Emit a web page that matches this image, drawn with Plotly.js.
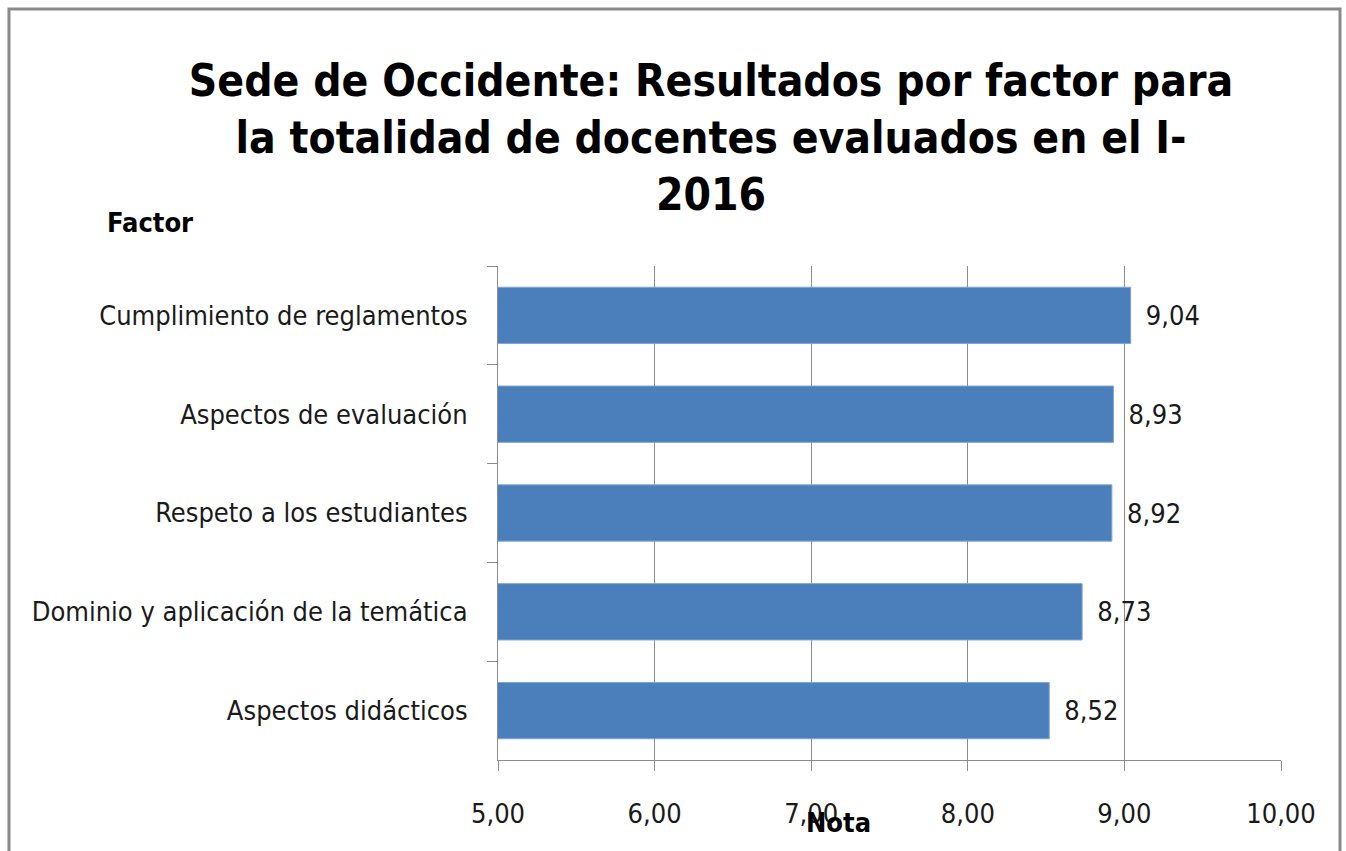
<!DOCTYPE html>
<html>
<head>
<meta charset="utf-8">
<script src="https://cdn.plot.ly/plotly-3.0.1.min.js"></script>
<style>
  html, body { margin: 0; padding: 0; background: #ffffff; }
  #chart { width: 1346px; height: 851px; }
</style>
</head>
<body>
<div id="chart"></div>
<script>
const categories = [
  "Cumplimiento de reglamentos",
  "Aspectos de evaluación",
  "Respeto a los estudiantes",
  "Dominio y aplicación de la temática",
  "Aspectos didácticos"
];
const notas = [9.04, 8.93, 8.92, 8.73, 8.52];
const xTicks = [5, 6, 7, 8, 9, 10];

const titleText = "Sede de Occidente: Resultados por factor para<br>la totalidad de docentes evaluados en el I-<br>2016";
const FONT = '"DejaVu Sans Condensed", "Liberation Sans Narrow", Arial, sans-serif';

const L = 498, R = 1281, T = 266, B = 760, W = 1346, H = 851;
const pw = R - L, ph = B - T;
const px = v => (v - L) / pw;
const py = v => (B - v) / ph;

const trace = {
  type: 'bar',
  orientation: 'h',
  y: categories,
  x: notas,
  marker: { color: '#4a7fbb', line: { color: '#7fa6d3', width: 1 } },
  texttemplate: '\u2002%{x:.2f}',
  textposition: 'outside',
  cliponaxis: false,
  textfont: { family: FONT, size: 27, color: '#1a1a1a' },
  hoverinfo: 'skip'
};

const layout = {
  width: W, height: H,
  margin: { l: L, r: W - R, t: T, b: H - B, pad: 0 },
  paper_bgcolor: '#ffffff',
  plot_bgcolor: '#ffffff',
  separators: ',.',
  showlegend: false,
  bargap: 0.43,
  title: {
    text: titleText,
    font: { family: FONT, size: 44, color: '#000000', weight: 'bold' },
    x: 711 / W, xref: 'container', xanchor: 'center',
    y: 1 - 96 / H, yref: 'container', yanchor: 'middle'
  },
  xaxis: {
    range: [5, 10],
    tickvals: xTicks,
    tickformat: '.2f',
    showgrid: true,
    gridcolor: '#8c8c8c',
    gridwidth: 1,
    zeroline: false,
    showline: true,
    linecolor: '#8c8c8c',
    linewidth: 1,
    ticks: 'outside',
    ticklen: 10,
    tickcolor: '#8c8c8c',
    ticklabelstandoff: 20,
    tickfont: { family: FONT, size: 27, color: '#1a1a1a' },
    fixedrange: true
  },
  yaxis: {
    type: 'category',
    autorange: 'reversed',
    showgrid: false,
    zeroline: false,
    showline: true,
    linecolor: '#8c8c8c',
    linewidth: 1,
    ticks: 'outside',
    tickson: 'boundaries',
    ticklen: 10,
    tickcolor: '#8c8c8c',
    ticklabelstandoff: 24,
    tickfont: { family: FONT, size: 27, color: '#1a1a1a' },
    fixedrange: true
  },
  annotations: [
    {
      text: 'Factor', showarrow: false,
      xref: 'paper', yref: 'paper',
      x: px(105), y: py(222), xanchor: 'left', yanchor: 'middle',
      font: { family: FONT, size: 27, color: '#000000', weight: 'bold' }
    },
    {
      text: 'Nota', showarrow: false,
      xref: 'paper', yref: 'paper',
      x: px(838), y: py(822), xanchor: 'center', yanchor: 'middle',
      font: { family: FONT, size: 27, color: '#000000', weight: 'bold' }
    }
  ],
  shapes: [
    {
      type: 'rect', xref: 'paper', yref: 'paper',
      x0: px(9), x1: px(1340), y0: py(9), y1: py(900),
      line: { color: '#8a8a8a', width: 3 },
      fillcolor: 'rgba(0,0,0,0)', layer: 'below'
    }
  ]
};

Plotly.newPlot('chart', [trace], layout, { displayModeBar: false, staticPlot: true });
</script>
</body>
</html>
